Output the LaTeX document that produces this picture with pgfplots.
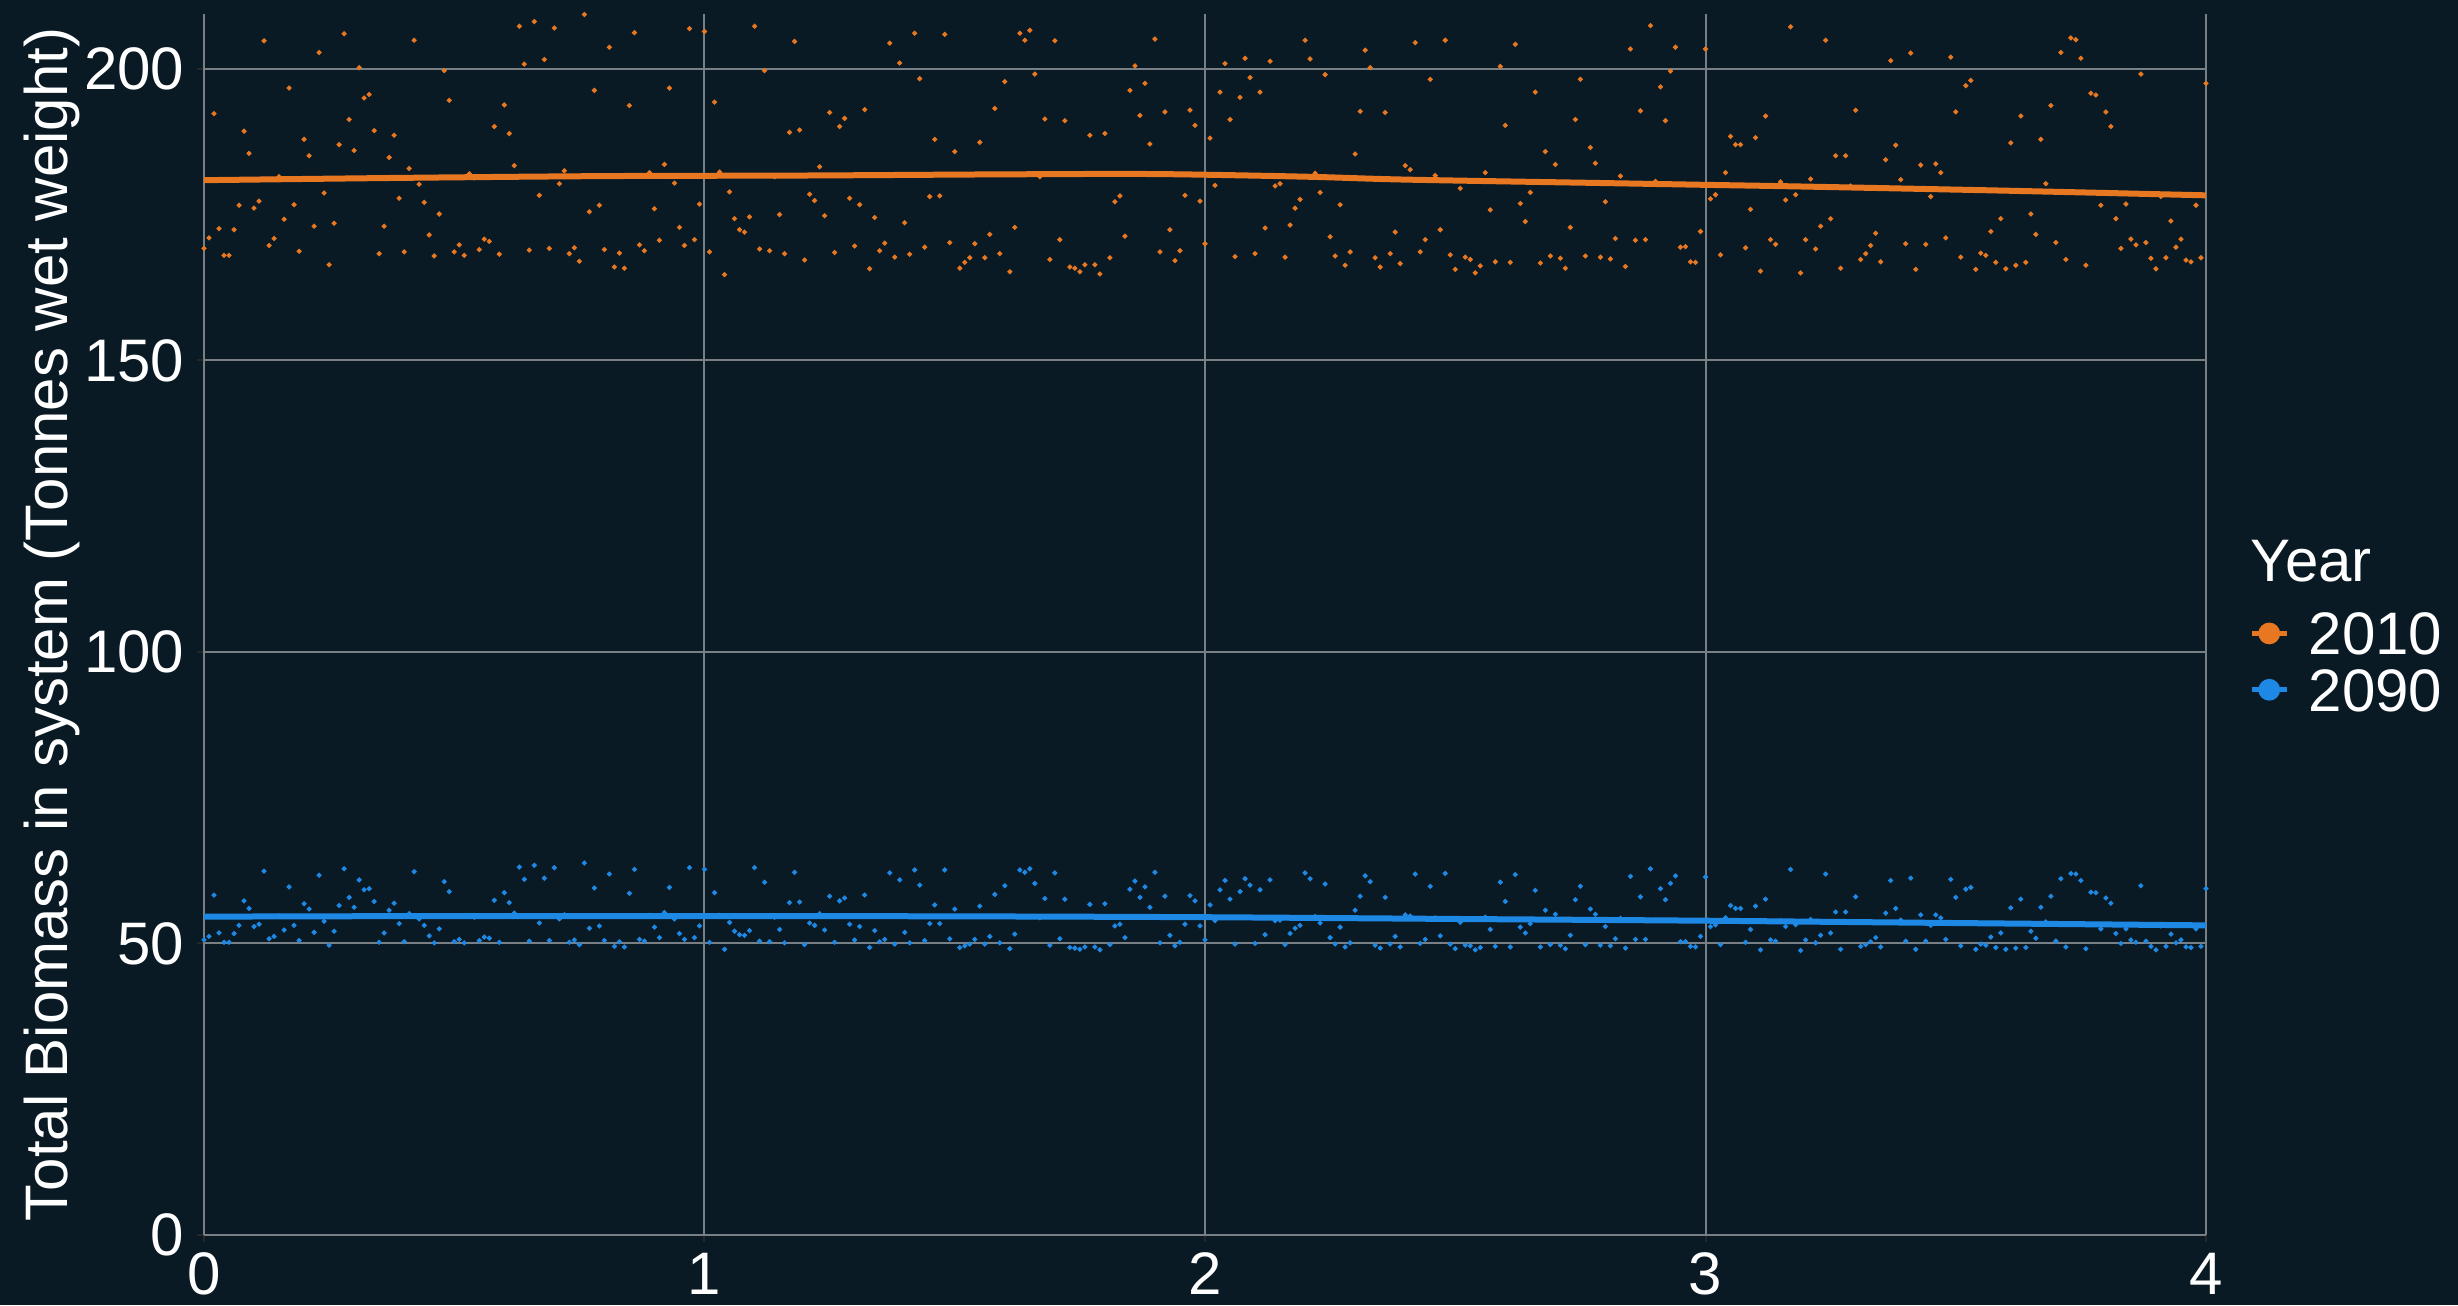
\documentclass[border=0pt]{standalone}
\usepackage{pgfplots}
\pgfplotsset{compat=1.18}
\usepackage{pgfplotstable}
\usepackage{fontspec}
\setmainfont{Liberation Sans}

\definecolor{panelbg}{RGB}{9,26,36}
\definecolor{gridgray}{RGB}{120,128,134}
\definecolor{c2010}{RGB}{232,119,34}
\definecolor{c2090}{RGB}{30,136,229}

% Total biomass per time step: a = 2010 run, b = 2090 run
\pgfplotstableread{
x a b
0.00 169.2 50.6
0.01 171.0 51.2
0.02 192.3 58.3
0.03 172.6 51.8
0.04 168.0 50.2
0.05 168.0 50.2
0.06 172.4 51.7
0.07 176.6 53.1
0.08 189.3 57.3
0.09 185.5 56.0
0.10 176.1 52.9
0.11 177.3 53.3
0.12 204.8 62.4
0.13 169.7 50.8
0.14 170.9 51.2
0.15 181.5 54.7
0.16 174.2 52.3
0.17 196.7 59.7
0.18 176.7 53.1
0.19 168.7 50.5
0.20 187.9 56.8
0.21 185.1 55.9
0.22 173.0 51.9
0.23 202.8 61.7
0.24 178.7 53.8
0.25 166.4 49.7
0.26 173.5 52.1
0.27 187.0 56.5
0.28 206.0 62.8
0.29 191.3 57.9
0.30 186.0 56.2
0.31 200.2 60.9
0.32 195.0 59.2
0.33 195.6 59.4
0.34 189.4 57.2
0.35 168.3 50.2
0.36 173.0 51.8
0.37 184.8 55.7
0.38 188.6 56.9
0.39 177.8 53.4
0.40 168.6 50.3
0.41 182.9 55.1
0.42 204.9 62.3
0.43 180.2 54.2
0.44 177.1 53.1
0.45 171.5 51.3
0.46 167.9 50.1
0.47 175.1 52.5
0.48 199.7 60.6
0.49 194.6 58.9
0.50 168.6 50.3
0.51 169.8 50.7
0.52 168.0 50.1
0.53 182.0 54.8
0.54 181.3 54.5
0.55 169.0 50.5
0.56 170.8 51.1
0.57 170.4 50.9
0.58 190.1 57.4
0.59 168.2 50.2
0.60 193.8 58.7
0.61 188.9 57.0
0.62 183.4 55.2
0.63 207.3 63.1
0.64 200.8 61.0
0.65 168.9 50.4
0.66 208.1 63.4
0.67 178.3 53.5
0.68 201.6 61.2
0.69 169.2 50.5
0.70 207.0 63.0
0.71 180.3 54.2
0.72 182.5 54.9
0.73 168.3 50.2
0.74 169.3 50.6
0.75 167.0 49.8
0.76 209.3 63.8
0.77 175.5 52.6
0.78 196.3 59.5
0.79 176.6 53.0
0.80 169.0 50.5
0.81 203.7 61.9
0.82 166.0 49.5
0.83 168.4 50.3
0.84 165.8 49.4
0.85 193.7 58.6
0.86 206.2 62.7
0.87 169.8 50.7
0.88 168.8 50.4
0.89 182.2 54.8
0.90 176.0 52.8
0.91 170.6 51.0
0.92 183.6 55.3
0.93 196.7 59.6
0.94 180.4 54.2
0.95 172.8 51.7
0.96 169.7 50.7
0.97 206.9 63.0
0.98 170.7 51.0
0.99 176.8 53.0
1.00 206.4 62.7
1.01 168.6 50.2
1.02 194.3 58.7
1.03 182.3 54.8
1.04 164.7 49.0
1.05 178.9 53.6
1.06 174.3 52.1
1.07 172.4 51.5
1.08 172.0 51.4
1.09 174.6 52.2
1.10 207.3 63.0
1.11 169.1 50.4
1.12 199.7 60.5
1.13 168.8 50.3
1.14 181.5 54.5
1.15 175.0 52.4
1.16 168.3 50.1
1.17 189.1 57.0
1.18 204.7 62.2
1.19 189.5 57.1
1.20 167.2 49.8
1.21 178.5 53.5
1.22 177.4 53.1
1.23 183.2 55.1
1.24 174.8 52.3
1.25 192.5 58.1
1.26 168.5 50.2
1.27 190.1 57.3
1.28 191.5 57.8
1.29 177.8 53.3
1.30 169.6 50.6
1.31 176.7 52.9
1.32 193.0 58.3
1.33 165.7 49.3
1.34 174.5 52.2
1.35 168.8 50.3
1.36 170.1 50.7
1.37 204.4 62.1
1.38 167.7 49.9
1.39 201.0 60.9
1.40 173.6 51.9
1.41 168.2 50.1
1.42 206.1 62.6
1.43 198.3 60.0
1.44 169.4 50.5
1.45 178.1 53.4
1.46 187.9 56.6
1.47 178.2 53.4
1.48 205.9 62.6
1.49 170.2 50.8
1.50 185.8 55.9
1.51 165.8 49.3
1.52 166.8 49.6
1.53 167.6 49.9
1.54 170.0 50.7
1.55 187.4 56.4
1.56 167.6 49.9
1.57 171.6 51.2
1.58 193.2 58.4
1.59 168.3 50.1
1.60 197.8 59.9
1.61 165.2 49.1
1.62 172.8 51.6
1.63 206.1 62.6
1.64 204.9 62.2
1.65 206.6 62.8
1.66 199.1 60.3
1.67 181.5 54.4
1.68 191.4 57.7
1.69 167.3 49.7
1.70 204.8 62.1
1.71 170.7 50.8
1.72 191.1 57.6
1.73 166.0 49.3
1.74 165.8 49.2
1.75 165.2 49.0
1.76 166.4 49.4
1.77 188.6 56.7
1.78 166.4 49.4
1.79 164.8 48.9
1.80 188.9 56.8
1.81 167.6 49.8
1.82 177.2 53.0
1.83 178.2 53.3
1.84 171.3 51.0
1.85 196.3 59.3
1.86 200.5 60.7
1.87 192.0 57.9
1.88 197.5 59.7
1.89 187.1 56.2
1.90 205.1 62.2
1.91 168.6 50.1
1.92 192.6 58.1
1.93 172.4 51.4
1.94 167.1 49.6
1.95 168.8 50.2
1.96 178.3 53.3
1.97 192.9 58.2
1.98 190.3 57.3
1.99 177.3 53.0
2.00 170.0 50.6
2.01 188.1 56.6
2.02 180.0 53.9
2.03 196.0 59.2
2.04 200.9 60.8
2.05 191.3 57.6
2.06 167.8 49.9
2.07 195.1 58.9
2.08 201.8 61.1
2.09 198.5 60.0
2.10 168.3 50.0
2.11 196.0 59.2
2.12 172.7 51.5
2.13 201.3 60.9
2.14 179.9 53.9
2.15 180.3 54.0
2.16 167.7 49.8
2.17 173.2 51.7
2.18 176.1 52.6
2.19 177.6 53.1
2.20 204.9 62.1
2.21 201.7 61.1
2.22 182.1 54.6
2.23 178.8 53.5
2.24 199.0 60.2
2.25 171.2 51.0
2.26 167.9 49.9
2.27 176.7 52.8
2.28 166.3 49.4
2.29 168.6 50.1
2.30 185.4 55.7
2.31 192.7 58.1
2.32 203.2 61.6
2.33 200.2 60.6
2.34 167.6 49.7
2.35 166.0 49.2
2.36 192.5 57.9
2.37 168.3 49.9
2.38 172.0 51.2
2.39 166.6 49.4
2.40 183.4 54.9
2.41 182.7 54.7
2.42 204.5 61.9
2.43 168.6 50.0
2.44 170.7 50.7
2.45 198.2 59.8
2.46 181.7 54.4
2.47 172.4 51.3
2.48 204.9 62.0
2.49 168.1 49.9
2.50 165.6 49.1
2.51 179.5 53.6
2.52 167.7 49.7
2.53 167.3 49.6
2.54 165.0 48.9
2.55 166.2 49.3
2.56 182.2 54.5
2.57 175.8 52.4
2.58 166.9 49.5
2.59 200.4 60.5
2.60 190.3 57.2
2.61 166.8 49.4
2.62 204.2 61.8
2.63 176.9 52.8
2.64 173.8 51.8
2.65 178.8 53.4
2.66 196.0 59.1
2.67 166.7 49.4
2.68 185.8 55.7
2.69 167.9 49.8
2.70 183.6 55.0
2.71 167.5 49.7
2.72 165.8 49.1
2.73 172.8 51.4
2.74 191.3 57.5
2.75 198.2 59.8
2.76 167.9 49.8
2.77 186.5 55.9
2.78 183.8 55.0
2.79 167.7 49.7
2.80 177.2 52.9
2.81 167.4 49.6
2.82 170.9 50.8
2.83 181.6 54.3
2.84 166.1 49.2
2.85 203.4 61.5
2.86 170.6 50.7
2.87 192.8 58.0
2.88 170.7 50.7
2.89 207.4 62.8
2.90 180.7 54.0
2.91 196.9 59.4
2.92 191.1 57.5
2.93 199.6 60.3
2.94 203.7 61.6
2.95 169.4 50.3
2.96 169.5 50.3
2.97 166.9 49.5
2.98 166.8 49.4
2.99 172.1 51.2
3.00 203.4 61.4
3.01 177.7 52.9
3.02 178.4 53.2
3.03 168.1 49.8
3.04 182.2 54.4
3.05 188.4 56.5
3.06 187.0 56.0
3.07 187.0 56.0
3.08 169.3 50.2
3.09 175.9 52.4
3.10 188.2 56.4
3.11 165.3 48.9
3.12 191.9 57.6
3.13 170.7 50.6
3.14 169.9 50.4
3.15 180.6 53.9
3.16 177.5 52.9
3.17 207.2 62.7
3.18 178.4 53.2
3.19 165.0 48.8
3.20 170.7 50.6
3.21 181.1 54.1
3.22 169.1 50.1
3.23 173.0 51.4
3.24 204.9 61.9
3.25 174.3 51.8
3.26 185.1 55.4
3.27 165.8 49.0
3.28 185.1 55.4
3.29 179.9 53.7
3.30 192.9 58.0
3.31 167.3 49.5
3.32 168.3 49.8
3.33 169.7 50.3
3.34 171.8 51.0
3.35 166.9 49.4
3.36 184.4 55.2
3.37 201.4 60.8
3.38 186.9 56.0
3.39 181.0 54.0
3.40 170.0 50.4
3.41 202.7 61.2
3.42 165.6 49.0
3.43 183.5 54.9
3.44 169.9 50.4
3.45 178.1 53.1
3.46 183.7 54.9
3.47 182.2 54.4
3.48 171.0 50.7
3.49 202.0 61.0
3.50 192.6 57.9
3.51 167.7 49.6
3.52 197.1 59.3
3.53 198.0 59.6
3.54 165.6 49.0
3.55 168.4 49.9
3.56 168.0 49.7
3.57 172.1 51.1
3.58 166.8 49.3
3.59 174.3 51.8
3.60 165.7 49.0
3.61 187.3 56.1
3.62 166.3 49.2
3.63 191.9 57.6
3.64 166.8 49.3
3.65 175.1 52.1
3.66 171.6 50.9
3.67 187.9 56.2
3.68 180.3 53.7
3.69 193.7 58.1
3.70 170.2 50.4
3.71 202.8 61.1
3.72 167.3 49.4
3.73 205.3 62.0
3.74 205.0 61.9
3.75 201.8 60.8
3.76 166.3 49.1
3.77 195.8 58.8
3.78 195.5 58.7
3.79 176.6 52.5
3.80 192.6 57.8
3.81 190.1 56.9
3.82 174.3 51.7
3.83 169.2 50.0
3.84 176.8 52.5
3.85 170.8 50.6
3.86 169.8 50.2
3.87 199.1 59.9
3.88 170.2 50.4
3.89 167.5 49.5
3.90 165.7 48.9
3.91 178.1 53.0
3.92 167.6 49.5
3.93 173.9 51.6
3.94 169.4 50.1
3.95 170.8 50.6
3.96 167.2 49.4
3.97 166.9 49.3
3.98 176.6 52.5
3.99 167.6 49.5
4.00 197.5 59.4
}\biomass

\begin{document}
\begin{tikzpicture}
\path[use as bounding box, fill=panelbg] (-61.2pt,-21pt) rectangle (676.2pt,370.5pt);
\begin{axis}[
  at={(0pt,0pt)}, anchor=origin,
  scale only axis, width=600.6pt, height=366.3pt,
  xmin=0, xmax=4, ymin=0, ymax=209.4,
  xtick={0,1,2,3,4}, ytick={0,50,100,150,200},
  axis lines*=left,
  axis line style={gridgray, line width=0.6pt, -},
  grid=major,
  major grid style={gridgray, line width=0.6pt},
  tick align=outside, major tick length=2.2pt,
  tick style={black!85, line width=0.6pt},
  /pgf/number format/assume math mode=true,
  tick label style={font=\fontsize{18}{20}\selectfont, text=white},
  xticklabel style={inner sep=0pt, yshift=-3pt},
  yticklabel style={inner sep=0pt, xshift=-3.5pt},
  ylabel={Total Biomass in system (Tonnes wet weight)},
  ylabel style={at={(axis description cs:-0.0759,0.5)}, anchor=center,
    font=\fontsize{18}{20}\selectfont, text=white},
  legend style={at={(axis description cs:1.0212,0.4696)}, anchor=west,
    draw=none, fill=none, text=white, inner sep=0pt,
    font=\fontsize{18}{20}\selectfont, row sep=4pt,
    nodes={inner sep=0pt, text height=12.9pt, text depth=0pt},
    /tikz/every odd column/.style={column sep=5.8pt}},
  legend cell align=left,
]
\addplot[only marks, mark=*, mark size=0.55pt, color=c2010,
  mark options={draw=none, fill=c2010}, forget plot]
  table[x=x, y=a]{\biomass};
\addplot[only marks, mark=*, mark size=0.55pt, color=c2090,
  mark options={draw=none, fill=c2090}, forget plot]
  table[x=x, y=b]{\biomass};

% smoothed trends
\addplot[color=c2010, line width=1.8pt, smooth, no markers,
  legend image code/.code={
    \draw[line width=1.6pt] (0pt,0pt) -- (10.5pt,0pt);
    \fill (5.25pt,0pt) circle (2.35pt);}]
  coordinates {(0,180.9) (0.4,181.3) (0.8,181.6) (1.2,181.7) (1.6,181.9)
    (1.9,181.95) (2.2,181.5) (2.4,181.0) (2.8,180.4) (3.0,180.1)
    (3.2,179.8) (3.6,179.1) (4.0,178.3)};
\addlegendentry{2010}
\addplot[color=c2090, line width=1.8pt, smooth, no markers,
  legend image code/.code={
    \draw[line width=1.6pt] (0pt,0pt) -- (10.5pt,0pt);
    \fill (5.25pt,0pt) circle (2.35pt);}]
  coordinates {(0,54.6) (0.5,54.7) (1.0,54.7) (1.5,54.65) (2.0,54.5)
    (2.5,54.2) (3.0,53.9) (3.5,53.5) (4.0,53.1)};
\addlegendentry{2090}
\end{axis}
% legend title
\node[anchor=west, inner sep=0pt, text=white, font=\fontsize{18}{20}\selectfont]
  at (613.8pt,202.3pt) {Year};
\end{tikzpicture}
\end{document}
